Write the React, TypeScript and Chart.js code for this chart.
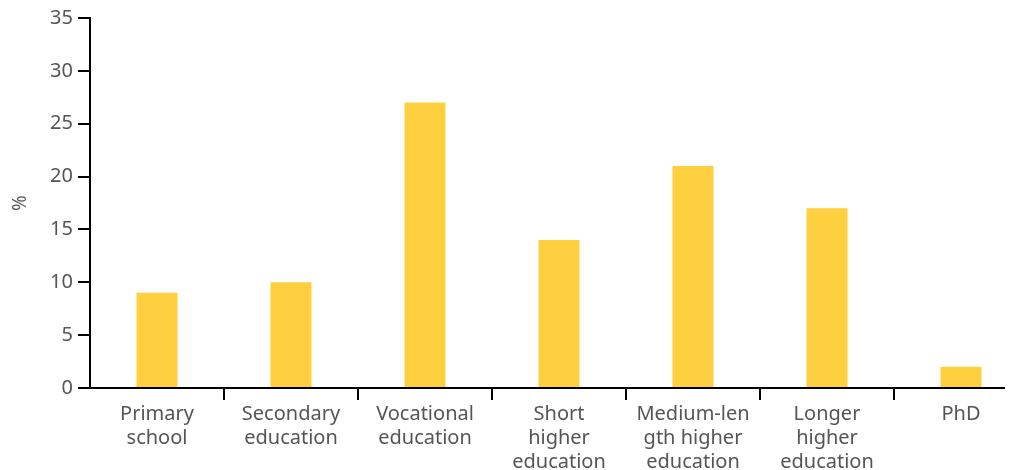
import React, { useEffect, useRef } from "react";
import { Chart, registerables } from "chart.js";

Chart.register(...registerables);

const categories: string[][] = [
  ["Primary", "school"],
  ["Secondary", "education"],
  ["Vocational", "education"],
  ["Short", "higher", "education"],
  ["Medium-len", "gth higher", "education"],
  ["Longer", "higher", "education"],
  ["PhD"],
];
const values: number[] = [9, 10, 27, 14, 21, 17, 2];
const yTicks: number[] = [0, 5, 10, 15, 20, 25, 30, 35];
const yTitle = "%";

const FONT = "'Noto Sans', sans-serif";
const TEXT = "#555555";

export default function App() {
  const ref = useRef<HTMLCanvasElement | null>(null);
  useEffect(() => {
    document.documentElement.style.overflow = "hidden";
    document.body.style.overflow = "hidden";
    const chart = new Chart(ref.current!, {
      type: "bar",
      data: {
        labels: categories,
        datasets: [
          {
            data: values,
            backgroundColor: "#FECF3F",
            barPercentage: 0.306,
            categoryPercentage: 1,
          },
        ],
      },
      options: {
        animation: false,
        responsive: false,
        maintainAspectRatio: false,
        layout: { padding: { top: 10, right: 0, left: 1, bottom: 0 } },
        plugins: { legend: { display: false }, tooltip: { enabled: false } },
        scales: {
          x: {
            grid: {
              offset: true,
              drawOnChartArea: false,
              drawTicks: true,
              tickLength: 12,
              lineWidth: 2,
              color: (ctx: any) => (ctx.index === 0 ? "rgba(0,0,0,0)" : "#000"),
            },
            border: { display: true, color: "#000", width: 2 },
            ticks: {
              color: TEXT,
              font: { family: FONT, size: 20, lineHeight: 1.2 },
              maxRotation: 0,
              autoSkip: false,
              padding: 2,
            },
            afterFit: (s: any) => {
              s.height = 82;
              s.paddingLeft = 0;
              s.paddingRight = 0;
            },
          },
          y: {
            min: 0,
            max: 35,
            afterBuildTicks: (s: any) => {
              s.ticks = yTicks.map((v) => ({ value: v }));
            },
            grid: {
              drawOnChartArea: false,
              drawTicks: true,
              tickLength: 12,
              lineWidth: 2,
              color: "#000",
            },
            border: { display: true, color: "#000", width: 2 },
            ticks: {
              color: TEXT,
              font: { family: FONT, size: 20 },
              padding: 5,
            },
            title: {
              display: true,
              text: yTitle,
              color: TEXT,
              font: { family: FONT, size: 19 },
              padding: 0,
            },
            afterFit: (s: any) => {
              s.width = 81;
              s.paddingTop = 0;
              s.paddingBottom = 0;
            },
          },
        },
      },
    });
    return () => chart.destroy();
  }, []);
  return (
    <div style={{ width: 1005, height: 462, overflow: "hidden" }}>
      <canvas ref={ref} width={1020} height={462} style={{ display: "block" }} />
    </div>
  );
}
